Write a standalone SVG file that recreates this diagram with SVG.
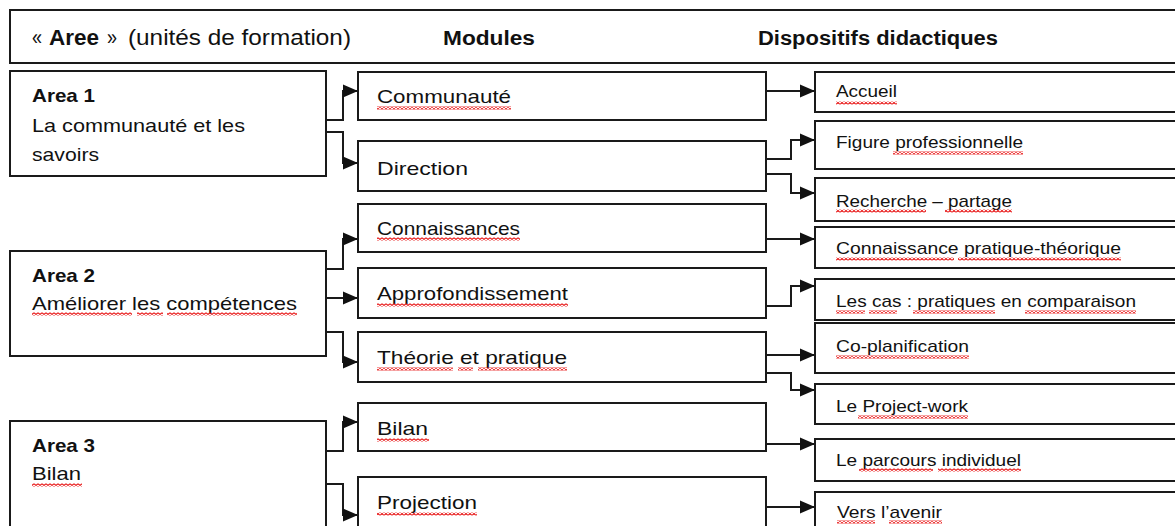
<svg xmlns="http://www.w3.org/2000/svg" width="1175" height="526" viewBox="0 0 1175 526">
<defs>
<style>
.box{fill:#fff;stroke:#1a1a1a;stroke-width:2}
.t{font-family:"Liberation Sans",Arial,sans-serif;fill:#111;font-size:19px}
.b{font-weight:bold}
.h{font-size:22px}
.hb{font-family:"Liberation Sans",Arial,sans-serif;fill:#111;font-size:20px;font-weight:bold}
.d{font-size:17px}
.c{fill:none;stroke:#1a1a1a;stroke-width:2}
.sq{fill:url(#wave)}
</style>
<pattern id="wave" width="4" height="3" patternUnits="userSpaceOnUse">
<polyline points="0,2.6 2,0.4 4,2.6" fill="none" stroke="#e81818" stroke-width="1.2"/>
</pattern>
<marker id="arr" markerWidth="16" markerHeight="14" refX="15" refY="7" orient="auto" markerUnits="userSpaceOnUse">
<path d="M0,0.5 L15,7 L0,13.5 Z" fill="#111"/>
</marker>
</defs>
<rect width="1175" height="526" fill="#fff"/>

<g id="header">
<rect class="box" x="10" y="10" width="1180" height="53"/>
<text class="t h" x="32" y="45" textLength="10" lengthAdjust="spacingAndGlyphs">«</text>
<text class="t h b" x="49" y="45" textLength="50" lengthAdjust="spacingAndGlyphs">Aree</text>
<text class="t h" x="107" y="45" textLength="10" lengthAdjust="spacingAndGlyphs">»</text>
<text class="t h" x="128" y="45" textLength="223" lengthAdjust="spacingAndGlyphs">(unités de formation)</text>
<text class="hb" x="443" y="45" textLength="92" lengthAdjust="spacingAndGlyphs">Modules</text>
<text class="hb" x="758" y="45" textLength="240" lengthAdjust="spacingAndGlyphs">Dispositifs didactiques</text>
</g>

<g id="connectors">
<path class="c" d="M326,120 H343 V91 H358" marker-end="url(#arr)"/>
<path class="c" d="M326,132 H343 V163 H358" marker-end="url(#arr)"/>
<path class="c" d="M326,269 H343 V239 H358" marker-end="url(#arr)"/>
<path class="c" d="M326,298 H358" marker-end="url(#arr)"/>
<path class="c" d="M326,332 H343 V362 H358" marker-end="url(#arr)"/>
<path class="c" d="M326,451 H343 V422 H358" marker-end="url(#arr)"/>
<path class="c" d="M326,484 H343 V515 H358" marker-end="url(#arr)"/>
<path class="c" d="M766,91 H815" marker-end="url(#arr)"/>
<path class="c" d="M766,159 H791 V140 H815" marker-end="url(#arr)"/>
<path class="c" d="M766,174 H791 V193 H815" marker-end="url(#arr)"/>
<path class="c" d="M766,239 H815" marker-end="url(#arr)"/>
<path class="c" d="M766,306 H791 V286 H815" marker-end="url(#arr)"/>
<path class="c" d="M766,355 H815" marker-end="url(#arr)"/>
<path class="c" d="M766,373 H791 V390 H815" marker-end="url(#arr)"/>
<path class="c" d="M766,444 H815" marker-end="url(#arr)"/>
<path class="c" d="M766,507 H815" marker-end="url(#arr)"/>
</g>

<g id="area1">
<rect class="box" x="10" y="71" width="316" height="105"/>
<text class="t b" x="32" y="102" textLength="63" lengthAdjust="spacingAndGlyphs">Area 1</text>
<text class="t" x="32" y="132" textLength="213" lengthAdjust="spacingAndGlyphs">La communauté et les</text>
<text class="t" x="32" y="161" textLength="67" lengthAdjust="spacingAndGlyphs">savoirs</text>
</g>
<g id="area2">
<rect class="box" x="10" y="251" width="316" height="105"/>
<text class="t b" x="32" y="282" textLength="63" lengthAdjust="spacingAndGlyphs">Area 2</text>
<text class="t" x="32" y="310" textLength="265" lengthAdjust="spacingAndGlyphs">Améliorer les compétences</text>
<rect class="sq" x="32" y="312.5" width="100" height="3"/>
<rect class="sq" x="137" y="312.5" width="26" height="3"/>
<rect class="sq" x="167" y="312.5" width="130" height="3"/>
</g>
<g id="area3">
<rect class="box" x="10" y="421" width="316" height="115"/>
<text class="t b" x="32" y="452" textLength="63" lengthAdjust="spacingAndGlyphs">Area 3</text>
<text class="t" x="32" y="480" textLength="49" lengthAdjust="spacingAndGlyphs">Bilan</text>
<rect class="sq" x="32" y="483.5" width="50" height="3"/>
</g>

<g id="mod-communaute">
<rect class="box" x="358" y="72" width="408" height="48"/>
<text class="t" x="377" y="103" textLength="134" lengthAdjust="spacingAndGlyphs">Communauté</text>
<rect class="sq" x="377" y="106.5" width="134" height="3"/>
</g>
<g id="mod-direction">
<rect class="box" x="358" y="141" width="408" height="50"/>
<text class="t" x="377" y="175" textLength="91" lengthAdjust="spacingAndGlyphs">Direction</text>
</g>
<g id="mod-connaissances">
<rect class="box" x="358" y="204" width="408" height="48"/>
<text class="t" x="377" y="235" textLength="143" lengthAdjust="spacingAndGlyphs">Connaissances</text>
<rect class="sq" x="377" y="237.5" width="143" height="3"/>
</g>
<g id="mod-approfondissement">
<rect class="box" x="358" y="268" width="408" height="50"/>
<text class="t" x="377" y="300" textLength="191" lengthAdjust="spacingAndGlyphs">Approfondissement</text>
<rect class="sq" x="377" y="303.5" width="191" height="3"/>
</g>
<g id="mod-theorie">
<rect class="box" x="358" y="332" width="408" height="50"/>
<text class="t" x="377" y="364" textLength="190" lengthAdjust="spacingAndGlyphs">Théorie et pratique</text>
<rect class="sq" x="377" y="367.5" width="76" height="3"/>
<rect class="sq" x="458" y="367.5" width="15" height="3"/>
<rect class="sq" x="478" y="367.5" width="89" height="3"/>
</g>
<g id="mod-bilan">
<rect class="box" x="358" y="403" width="408" height="48"/>
<text class="t" x="377" y="435" textLength="51" lengthAdjust="spacingAndGlyphs">Bilan</text>
<rect class="sq" x="377" y="438.5" width="52" height="3"/>
</g>
<g id="mod-projection">
<rect class="box" x="358" y="477" width="408" height="60"/>
<text class="t" x="377" y="509" textLength="100" lengthAdjust="spacingAndGlyphs">Projection</text>
<rect class="sq" x="377" y="512.5" width="100" height="3"/>
</g>

<g id="disp-accueil">
<rect class="box" x="815" y="72" width="375" height="40"/>
<text class="t d" x="836" y="97" textLength="61" lengthAdjust="spacingAndGlyphs">Accueil</text>
<rect class="sq" x="836" y="101.5" width="61" height="3"/>
</g>
<g id="disp-figure">
<rect class="box" x="815" y="121" width="375" height="48"/>
<text class="t d" x="836" y="148" textLength="187" lengthAdjust="spacingAndGlyphs">Figure professionnelle</text>
<rect class="sq" x="893" y="151.5" width="130" height="3"/>
</g>
<g id="disp-recherche">
<rect class="box" x="815" y="178" width="375" height="43"/>
<text class="t d" x="836" y="207" textLength="176" lengthAdjust="spacingAndGlyphs">Recherche – partage</text>
<rect class="sq" x="836" y="209.5" width="90" height="3"/>
<rect class="sq" x="945" y="209.5" width="67" height="3"/>
</g>
<g id="disp-connaissance">
<rect class="box" x="815" y="227" width="375" height="41"/>
<text class="t d" x="836" y="254" textLength="285" lengthAdjust="spacingAndGlyphs">Connaissance pratique-théorique</text>
<rect class="sq" x="836" y="257.5" width="118" height="3"/>
<rect class="sq" x="958" y="257.5" width="163" height="3"/>
</g>
<g id="disp-cas">
<rect class="box" x="815" y="279" width="375" height="41"/>
<text class="t d" x="836" y="307" textLength="300" lengthAdjust="spacingAndGlyphs">Les cas  : pratiques en comparaison</text>
<rect class="sq" x="836" y="310.5" width="29" height="3"/>
<rect class="sq" x="869" y="310.5" width="28" height="3"/>
<rect class="sq" x="913" y="310.5" width="82" height="3"/>
<rect class="sq" x="1025" y="310.5" width="111" height="3"/>
</g>
<g id="disp-coplanification">
<rect class="box" x="815" y="323" width="375" height="50"/>
<text class="t d" x="836" y="352" textLength="133" lengthAdjust="spacingAndGlyphs">Co-planification</text>
<rect class="sq" x="836" y="355.5" width="133" height="3"/>
</g>
<g id="disp-project">
<rect class="box" x="815" y="384" width="375" height="40"/>
<text class="t d" x="836" y="412" textLength="132" lengthAdjust="spacingAndGlyphs">Le Project-work</text>
<rect class="sq" x="858" y="415.5" width="110" height="3"/>
</g>
<g id="disp-parcours">
<rect class="box" x="815" y="439" width="375" height="42"/>
<text class="t d" x="836" y="466" textLength="185" lengthAdjust="spacingAndGlyphs">Le parcours individuel</text>
<rect class="sq" x="859" y="468.5" width="74" height="3"/>
<rect class="sq" x="938" y="468.5" width="83" height="3"/>
</g>
<g id="disp-avenir">
<rect class="box" x="815" y="492" width="375" height="50"/>
<text class="t d" x="837" y="518" textLength="105" lengthAdjust="spacingAndGlyphs">Vers l’avenir</text>
<rect class="sq" x="837" y="520.5" width="38" height="3"/>
<rect class="sq" x="889" y="520.5" width="53" height="3"/>
</g>
</svg>
